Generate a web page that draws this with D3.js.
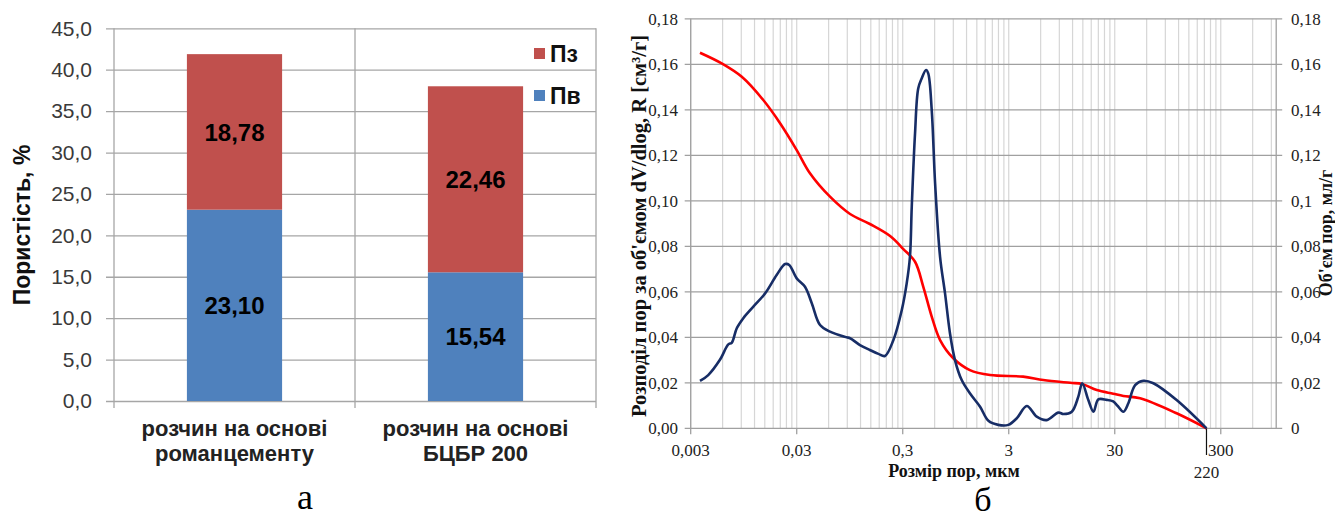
<!DOCTYPE html>
<html><head><meta charset="utf-8">
<script src="https://cdn.jsdelivr.net/npm/d3@7"></script>
<style>html,body{margin:0;padding:0;background:#fff;}svg{display:block}</style>
</head><body>
<script>
// ---------- data: chart a ----------
const categories = [["розчин на основі","романцементу"],["розчин на основі","БЦБР 200"]];
const pvValues = [23.10, 15.54];   // Пв (blue, bottom)
const pzValues = [18.78, 22.46];   // Пз (red, top)
const seriesNames = ["Пз","Пв"];
const leftTicks = [0,5,10,15,20,25,30,35,40,45];
const leftTickLabels = ["0,0","5,0","10,0","15,0","20,0","25,0","30,0","35,0","40,0","45,0"];

// ---------- data: chart б ----------
const blueSize = [0.00367,0.00439,0.00566,0.00679,0.00731,0.00816,0.0094,0.0117,0.0151,0.0194,0.0233,0.0255,0.03,0.0359,0.0416,0.0498,0.0618,0.0888,0.0956,0.1185,0.147,0.177,0.204,0.245,0.294,0.327,0.351,0.365,0.392,0.42,0.453,0.498,0.522,0.563,0.606,0.675,0.752,0.837,0.933,1.08,1.29,1.61,1.93,2.39,2.97,3.57,4.44,5.51,6.84,8.81,9.83,11.8,13.6,14.8,16.9,18.9,21.0,25.2,29.0,32.0,36.2,40.3,46.7,55.9,69.4,115,220];
const blueDist = [0.0208,0.0234,0.0301,0.0369,0.0376,0.044,0.0484,0.0535,0.0593,0.0674,0.0722,0.0718,0.0659,0.0622,0.055,0.0454,0.0425,0.04,0.0396,0.0366,0.0344,0.0327,0.0318,0.0388,0.052,0.0637,0.0754,0.0974,0.1297,0.1494,0.1538,0.1575,0.156,0.14,0.1077,0.0754,0.0593,0.0418,0.03,0.0212,0.0154,0.0095,0.0033,0.0015,0.0015,0.0044,0.0098,0.0051,0.0036,0.0069,0.0063,0.0073,0.0139,0.0198,0.0124,0.0073,0.0127,0.0125,0.0118,0.0098,0.0073,0.011,0.019,0.0209,0.0198,0.0124,0.0];
const redSize = [0.00367,0.00588,0.0091,0.0145,0.0209,0.03,0.040,0.0618,0.0956,0.147,0.228,0.304,0.392,0.469,0.563,0.675,0.9,1.29,2.0,4.1,6.36,11.4,14.8,20.3,29.0,36.2,52,115,220];
const redVolume = [0.1651,0.1604,0.1545,0.1443,0.1341,0.1223,0.1121,0.1018,0.0942,0.0898,0.0845,0.0788,0.0732,0.0622,0.0491,0.0388,0.0308,0.0256,0.0234,0.0227,0.0212,0.02,0.0195,0.0168,0.0152,0.0142,0.0132,0.0066,0.0];
const xTickValues = [0.003,0.03,0.3,3,30,300];
const xTickLabels = ["0,003","0,03","0,3","3","30","300"];
const yTicksR = [0,0.02,0.04,0.06,0.08,0.10,0.12,0.14,0.16,0.18];
const yLeftLabels = ["0,00","0,02","0,04","0,06","0,08","0,10","0,12","0,14","0,16","0,18"];
const yRightLabels = ["0","0,02","0,04","0,06","0,08","0,1","0,12","0,14","0,16","0,18"];
const markerSize = 220;

const svg = d3.select("body").append("svg").attr("width",1335).attr("height",517);
svg.append("rect").attr("width",1335).attr("height",517).attr("fill","#fff");

// ================= chart a =================
const sans = "'Liberation Sans', Arial, sans-serif";
const gA = svg.append("g");
const xA = d3.scaleBand().domain(d3.range(categories.length)).range([114,596]);
const yA = d3.scaleLinear().domain([0,45]).range([401,28.3]);
const gridCol = "#a6a6a6";

gA.append("g").attr("transform","translate(106,0)")
  .call(d3.axisLeft(yA).tickValues(leftTicks).tickSize(-(596-106)).tickPadding(14)
        .tickFormat((d,i)=>leftTickLabels[i]))
  .call(g=>g.select(".domain").remove())
  .call(g=>g.selectAll("line").attr("stroke",gridCol).attr("stroke-width",1.3))
  .call(g=>g.selectAll("text").attr("font-family",sans).attr("font-size",21).attr("fill","#3a3a3a"));
const edges = xA.domain().map(d=>xA(d)).concat([xA.range()[1]]);
gA.selectAll("line.v").data(edges).join("line").attr("class","v")
  .attr("x1",d=>d).attr("x2",d=>d).attr("y1",yA(45)).attr("y2",408)
  .attr("stroke",gridCol).attr("stroke-width",1.3);

const barFrac = 0.395;
const bw = xA.bandwidth()*barFrac;
const bx = i => xA(i) + (xA.bandwidth()-bw)/2;
gA.selectAll("rect.pv").data(pvValues).join("rect")
  .attr("x",(d,i)=>bx(i)).attr("width",bw)
  .attr("y",d=>yA(d)).attr("height",d=>yA(0)-yA(d)).attr("fill","#4f81bd");
gA.selectAll("rect.pz").data(pzValues).join("rect")
  .attr("x",(d,i)=>bx(i)).attr("width",bw)
  .attr("y",(d,i)=>yA(d+pvValues[i])).attr("height",(d,i)=>yA(pvValues[i])-yA(d+pvValues[i])).attr("fill","#c0504d");
const fmt = v => v.toFixed(2).replace(".",",");
gA.selectAll("text.lv").data(pvValues).join("text")
  .attr("x",(d,i)=>xA(i)+xA.bandwidth()/2).attr("y",d=>yA(d/2)).attr("dy","0.36em")
  .attr("text-anchor","middle").attr("font-family",sans).attr("font-weight","bold").attr("font-size",24)
  .text(fmt);
gA.selectAll("text.lz").data(pzValues).join("text")
  .attr("x",(d,i)=>xA(i)+xA.bandwidth()/2).attr("y",(d,i)=>yA(pvValues[i]+d/2)).attr("dy","0.36em")
  .attr("text-anchor","middle").attr("font-family",sans).attr("font-weight","bold").attr("font-size",24)
  .text(fmt);
categories.forEach((lines,i)=>{
  const t = gA.append("text").attr("text-anchor","middle").attr("font-family",sans)
    .attr("font-weight","bold").attr("font-size",22).attr("fill","#222");
  lines.forEach((ln,j)=>t.append("tspan").attr("x",xA(i)+xA.bandwidth()/2).attr("y",436+j*25).text(ln));
});
const legCols = ["#c0504d","#4f81bd"];
seriesNames.forEach((s,i)=>{
  gA.append("rect").attr("x",534).attr("y",48+i*42).attr("width",11).attr("height",11).attr("fill",legCols[i]);
  gA.append("text").attr("x",550).attr("y",61.5+i*42).attr("font-family",sans).attr("font-weight","bold")
    .attr("font-size",23).attr("fill","#111").text(s);
});
gA.append("text").attr("transform","translate(30,225) rotate(-90)").attr("text-anchor","middle")
  .attr("font-family",sans).attr("font-weight","bold").attr("font-size",23).attr("fill","#111").text("Пористість, %");
gA.append("text").attr("x",305).attr("y",509).attr("text-anchor","middle")
  .attr("font-family","'Liberation Serif','Times New Roman',serif").attr("font-size",36).text("а");

// ================= chart б =================
const serif = "'Liberation Serif','Times New Roman',serif";
const gB = svg.append("g");
const xB = d3.scaleLog().domain([0.003,1000]).range([690.7,1276.2]);
const yB = d3.scaleLinear().domain([0,0.18]).range([428.3,18.8]);
const [px0,px1] = xB.range();
const minor = [];
xTickValues.forEach(v=>{ for(let k=1;k<=9;k++){ const m=v*k; if(m<=1000.01) minor.push(m);} });
gB.selectAll("line.vg").data(minor).join("line")
  .attr("x1",d=>xB(d)).attr("x2",d=>xB(d)).attr("y1",yB(0.18)).attr("y2",yB(0))
  .attr("stroke","#d6d6d6").attr("stroke-width",1.2);
gB.selectAll("line.hg").data(yTicksR).join("line")
  .attr("x1",px0-6).attr("x2",px1+6).attr("y1",d=>yB(d)).attr("y2",d=>yB(d))
  .attr("stroke","#a0a0a0").attr("stroke-width",1.3);
[px0,px1].forEach(x=>gB.append("line").attr("x1",x).attr("x2",x).attr("y1",yB(0.18)).attr("y2",yB(0))
  .attr("stroke","#a0a0a0").attr("stroke-width",1.3));
gB.selectAll("line.bt").data(xTickValues).join("line")
  .attr("x1",d=>xB(d)).attr("x2",d=>xB(d)).attr("y1",yB(0)).attr("y2",yB(0)+6)
  .attr("stroke","#a0a0a0").attr("stroke-width",1.3);
gB.selectAll("text.xl").data(xTickValues).join("text")
  .attr("x",d=>xB(d)).attr("y",456).attr("text-anchor","middle")
  .attr("font-family",serif).attr("font-size",17).attr("fill","#222").text((d,i)=>xTickLabels[i]);
gB.selectAll("text.yl").data(yTicksR).join("text")
  .attr("x",678).attr("y",d=>yB(d)).attr("dy","0.35em").attr("text-anchor","end")
  .attr("font-family",serif).attr("font-size",17).attr("fill","#222").text((d,i)=>yLeftLabels[i]);
gB.selectAll("text.yr").data(yTicksR).join("text")
  .attr("x",1291).attr("y",d=>yB(d)).attr("dy","0.35em").attr("text-anchor","start")
  .attr("font-family",serif).attr("font-size",17).attr("fill","#222").text((d,i)=>yRightLabels[i]);
gB.append("line").attr("x1",xB(markerSize)).attr("x2",xB(markerSize)).attr("y1",yB(0)).attr("y2",455)
  .attr("stroke","#111").attr("stroke-width",1.2);
gB.append("text").attr("x",xB(markerSize)).attr("y",478).attr("text-anchor","middle")
  .attr("font-family",serif).attr("font-size",17).attr("fill","#222").text(String(markerSize));
const line = d3.line().x(d=>xB(d[0])).y(d=>yB(d[1])).curve(d3.curveCatmullRom.alpha(0.5));
gB.append("path").attr("d",line(redSize.map((s,i)=>[s,redVolume[i]])))
  .attr("fill","none").attr("stroke","#ff0000").attr("stroke-width",2.6);
gB.append("path").attr("d",line(blueSize.map((s,i)=>[s,blueDist[i]])))
  .attr("fill","none").attr("stroke","#172d66").attr("stroke-width",2.6);
gB.append("text").attr("x",954).attr("y",477).attr("text-anchor","middle")
  .attr("font-family",serif).attr("font-weight","bold").attr("font-size",18).attr("fill","#111").text("Розмір пор, мкм");
gB.append("text").attr("transform","translate(646,226) rotate(-90)").attr("text-anchor","middle")
  .attr("font-family",serif).attr("font-weight","bold").attr("font-size",20.5).attr("fill","#111")
  .text("Розподіл пор за об'ємом dV/dlog, R [см³/г]");
gB.append("text").attr("transform","translate(1332,233) rotate(-90)").attr("text-anchor","middle")
  .attr("font-family",serif).attr("font-weight","bold").attr("font-size",18).attr("fill","#111")
  .text("Об'єм пор, мл/г");
gB.append("text").attr("x",983).attr("y",511).attr("text-anchor","middle")
  .attr("font-family",serif).attr("font-size",34).text("б");
</script>
</body></html>
